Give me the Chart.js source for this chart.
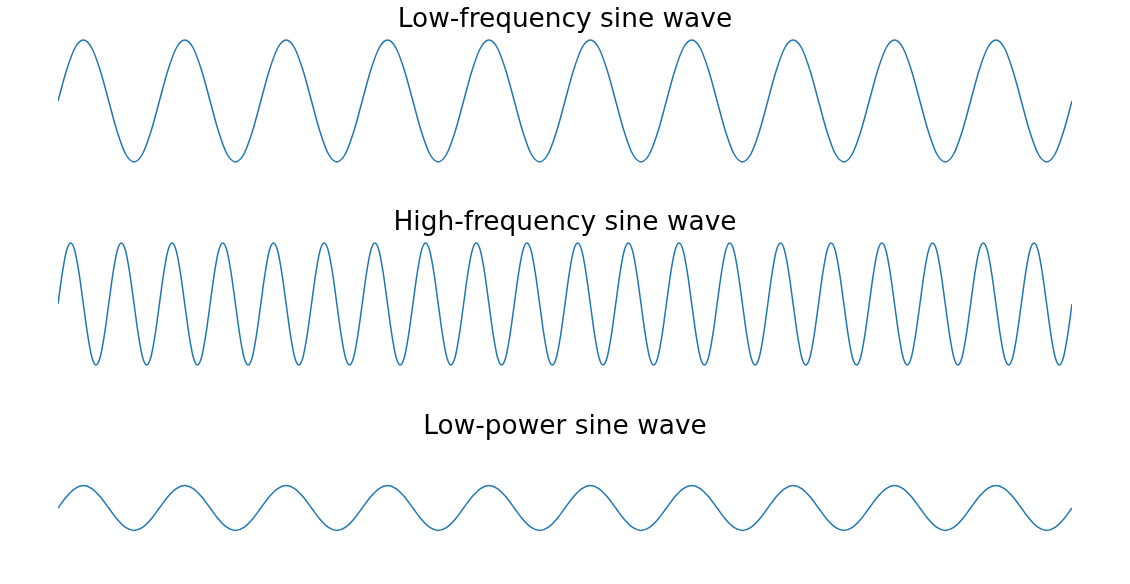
<!DOCTYPE html>
<html>
<head>
<meta charset="utf-8">
<script src="https://cdn.jsdelivr.net/npm/chart.js@4"></script>
<style>
  body { margin: 0; background: #fff; width: 1130px; height: 584px; overflow: hidden; }
  .panel { position: absolute; left: 58px; width: 1014px; height: 168px; }
</style>
</head>
<body>
<div class="panel" style="top:0px"><canvas id="lowFreq"></canvas></div>
<div class="panel" style="top:203px"><canvas id="highFreq"></canvas></div>
<div class="panel" style="top:407px"><canvas id="lowPower"></canvas></div>
<script>
// titles of the three panels
const titles = ["Low-frequency sine wave", "High-frequency sine wave", "Low-power sine wave"];

// 10 cycles, 12 samples per cycle
const lowFreqY = [
  0, 0.5, 0.87, 1, 0.87, 0.5, 0, -0.5, -0.87, -1, -0.87, -0.5,
  0, 0.5, 0.87, 1, 0.87, 0.5, 0, -0.5, -0.87, -1, -0.87, -0.5,
  0, 0.5, 0.87, 1, 0.87, 0.5, 0, -0.5, -0.87, -1, -0.87, -0.5,
  0, 0.5, 0.87, 1, 0.87, 0.5, 0, -0.5, -0.87, -1, -0.87, -0.5,
  0, 0.5, 0.87, 1, 0.87, 0.5, 0, -0.5, -0.87, -1, -0.87, -0.5,
  0, 0.5, 0.87, 1, 0.87, 0.5, 0, -0.5, -0.87, -1, -0.87, -0.5,
  0, 0.5, 0.87, 1, 0.87, 0.5, 0, -0.5, -0.87, -1, -0.87, -0.5,
  0, 0.5, 0.87, 1, 0.87, 0.5, 0, -0.5, -0.87, -1, -0.87, -0.5,
  0, 0.5, 0.87, 1, 0.87, 0.5, 0, -0.5, -0.87, -1, -0.87, -0.5,
  0, 0.5, 0.87, 1, 0.87, 0.5, 0, -0.5, -0.87, -1, -0.87, -0.5,
  0
];

// 20 cycles, 12 samples per cycle
const highFreqY = [
  0, 0.5, 0.87, 1, 0.87, 0.5, 0, -0.5, -0.87, -1, -0.87, -0.5,
  0, 0.5, 0.87, 1, 0.87, 0.5, 0, -0.5, -0.87, -1, -0.87, -0.5,
  0, 0.5, 0.87, 1, 0.87, 0.5, 0, -0.5, -0.87, -1, -0.87, -0.5,
  0, 0.5, 0.87, 1, 0.87, 0.5, 0, -0.5, -0.87, -1, -0.87, -0.5,
  0, 0.5, 0.87, 1, 0.87, 0.5, 0, -0.5, -0.87, -1, -0.87, -0.5,
  0, 0.5, 0.87, 1, 0.87, 0.5, 0, -0.5, -0.87, -1, -0.87, -0.5,
  0, 0.5, 0.87, 1, 0.87, 0.5, 0, -0.5, -0.87, -1, -0.87, -0.5,
  0, 0.5, 0.87, 1, 0.87, 0.5, 0, -0.5, -0.87, -1, -0.87, -0.5,
  0, 0.5, 0.87, 1, 0.87, 0.5, 0, -0.5, -0.87, -1, -0.87, -0.5,
  0, 0.5, 0.87, 1, 0.87, 0.5, 0, -0.5, -0.87, -1, -0.87, -0.5,
  0, 0.5, 0.87, 1, 0.87, 0.5, 0, -0.5, -0.87, -1, -0.87, -0.5,
  0, 0.5, 0.87, 1, 0.87, 0.5, 0, -0.5, -0.87, -1, -0.87, -0.5,
  0, 0.5, 0.87, 1, 0.87, 0.5, 0, -0.5, -0.87, -1, -0.87, -0.5,
  0, 0.5, 0.87, 1, 0.87, 0.5, 0, -0.5, -0.87, -1, -0.87, -0.5,
  0, 0.5, 0.87, 1, 0.87, 0.5, 0, -0.5, -0.87, -1, -0.87, -0.5,
  0, 0.5, 0.87, 1, 0.87, 0.5, 0, -0.5, -0.87, -1, -0.87, -0.5,
  0, 0.5, 0.87, 1, 0.87, 0.5, 0, -0.5, -0.87, -1, -0.87, -0.5,
  0, 0.5, 0.87, 1, 0.87, 0.5, 0, -0.5, -0.87, -1, -0.87, -0.5,
  0, 0.5, 0.87, 1, 0.87, 0.5, 0, -0.5, -0.87, -1, -0.87, -0.5,
  0, 0.5, 0.87, 1, 0.87, 0.5, 0, -0.5, -0.87, -1, -0.87, -0.5,
  0
];

// 10 cycles, small amplitude
const lowPowerY = [
  0, 0.185, 0.32, 0.37, 0.32, 0.185, 0, -0.185, -0.32, -0.37, -0.32, -0.185,
  0, 0.185, 0.32, 0.37, 0.32, 0.185, 0, -0.185, -0.32, -0.37, -0.32, -0.185,
  0, 0.185, 0.32, 0.37, 0.32, 0.185, 0, -0.185, -0.32, -0.37, -0.32, -0.185,
  0, 0.185, 0.32, 0.37, 0.32, 0.185, 0, -0.185, -0.32, -0.37, -0.32, -0.185,
  0, 0.185, 0.32, 0.37, 0.32, 0.185, 0, -0.185, -0.32, -0.37, -0.32, -0.185,
  0, 0.185, 0.32, 0.37, 0.32, 0.185, 0, -0.185, -0.32, -0.37, -0.32, -0.185,
  0, 0.185, 0.32, 0.37, 0.32, 0.185, 0, -0.185, -0.32, -0.37, -0.32, -0.185,
  0, 0.185, 0.32, 0.37, 0.32, 0.185, 0, -0.185, -0.32, -0.37, -0.32, -0.185,
  0, 0.185, 0.32, 0.37, 0.32, 0.185, 0, -0.185, -0.32, -0.37, -0.32, -0.185,
  0, 0.185, 0.32, 0.37, 0.32, 0.185, 0, -0.185, -0.32, -0.37, -0.32, -0.185,
  0
];

const yMin = -1.1;
const yMax = 1.1;

function makeChart(id, title, values) {
  var ctx = document.getElementById(id).getContext("2d");
  return new Chart(ctx, {
    type: "line",
    data: {
      labels: values.map(function (v, i) { return i; }),
      datasets: [
        {
          data: values,
          fill: false,
          borderColor: "#1f77b4",
          borderWidth: 1.5,
          cubicInterpolationMode: "monotone",
          pointRadius: 0,
          pointHoverRadius: 0,
        },
      ],
    },
    options: {
      responsive: true,
      maintainAspectRatio: false,
      devicePixelRatio: 1,
      animation: false,
      layout: { padding: 0 },
      scales: {
        x: { display: false, offset: false },
        y: { display: false, min: yMin, max: yMax },
      },
      plugins: {
        legend: { display: false },
        tooltip: { enabled: false },
        title: {
          display: true,
          text: title,
          color: "#000",
          font: { family: "'DejaVu Sans'", size: 26.4, weight: "normal", lineHeight: 1.0 },
          padding: { top: 7.2, bottom: 0.4 },
        },
      },
    },
  });
}

makeChart("lowFreq", titles[0], lowFreqY);
makeChart("highFreq", titles[1], highFreqY);
makeChart("lowPower", titles[2], lowPowerY);
</script>
</body>
</html>
